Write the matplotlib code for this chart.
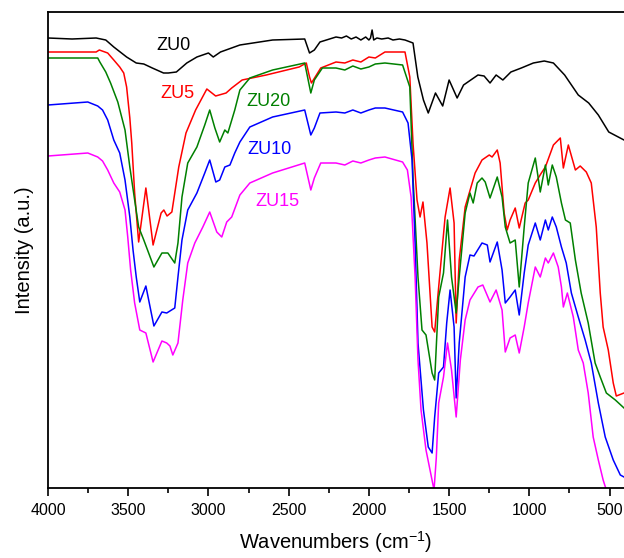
import matplotlib
matplotlib.use("Agg")
import matplotlib.pyplot as plt
from matplotlib.ticker import MultipleLocator

plt.rcParams["font.family"] = ["Liberation Sans", "DejaVu Sans"]

# ── spectra (wavenumber in cm-1, intensity in a.u.) ──
zu0_wn = [4000, 3850, 3700, 3640, 3590, 3550, 3510, 3480, 3450, 3403, 3350, 3280,
          3250, 3200, 3135, 3072, 3000, 2970, 2925, 2804, 2600, 2400, 2370, 2340,
          2305, 2205, 2170, 2140, 2110, 2080, 2050, 2020, 2000, 1990, 1980, 1970,
          1950, 1920, 1880, 1850, 1810, 1775, 1725, 1695, 1660, 1630, 1585, 1540,
          1500, 1450, 1410, 1320, 1282, 1245, 1207, 1165, 1115, 1050, 975, 907,
          850, 780, 695, 630, 570, 505, 410]
zu0_int = [450, 449, 450, 448, 441, 436, 431, 428, 425, 424, 420, 415,
           415, 416, 425, 431, 435, 431, 436, 443, 448, 449, 435, 438,
           446, 451, 450, 452, 449, 451, 448, 451, 448, 450, 458, 448,
           450, 449, 450, 448, 449, 448, 445, 411, 388, 375, 395, 382,
           408, 390, 403, 413, 412, 405, 413, 408, 416, 420, 425, 427,
           425, 413, 393, 385, 373, 356, 348]

zu5_wn = [4000, 3700, 3680, 3628, 3590, 3553, 3528, 3510, 3490, 3478, 3460, 3435,
          3390, 3345, 3295, 3278, 3258, 3228, 3185, 3140, 3080, 3010, 2955, 2890,
          2855, 2790, 2640, 2435, 2390, 2370, 2358, 2300, 2205, 2150, 2100, 2050,
          2000, 1960, 1900, 1775, 1745, 1725, 1700, 1681, 1663, 1638, 1606, 1590,
          1565, 1525, 1494, 1469, 1456, 1437, 1400, 1338, 1295, 1250, 1232, 1200,
          1182, 1157, 1138, 1120, 1088, 1063, 1026, 1007, 963, 925, 900, 850,
          807, 788, 757, 713, 683, 645, 614, 583, 558, 540, 508, 477, 458, 410]
zu5_int = [436, 436, 438, 435, 428, 421, 415, 401, 370, 345, 295, 246,
           300, 243, 275, 278, 272, 276, 321, 355, 378, 399, 392, 395,
           400, 408, 413, 421, 425, 411, 405, 420, 426, 425, 428, 426,
           431, 430, 436, 436, 411, 345, 288, 271, 286, 245, 161, 156,
           201, 271, 300, 265, 165, 228, 281, 315, 328, 333, 331, 338,
           325, 275, 258, 268, 280, 260, 285, 288, 305, 315, 321, 343,
           350, 320, 343, 318, 322, 316, 305, 261, 195, 161, 138, 105, 92, 95]

zu20_wn = [4000, 3690, 3677, 3640, 3610, 3565, 3520, 3490, 3460, 3435, 3403, 3340,
           3290, 3253, 3210, 3190, 3165, 3129, 3072, 3023, 2992, 2960, 2930, 2898,
           2879, 2836, 2804, 2742, 2600, 2400, 2362, 2340, 2290, 2205, 2150, 2100,
           2050, 2000, 1960, 1900, 1790, 1745, 1725, 1694, 1669, 1644, 1606, 1590,
           1565, 1535, 1510, 1485, 1456, 1437, 1400, 1370, 1350, 1325, 1295, 1275,
           1245, 1200, 1170, 1150, 1120, 1088, 1063, 1032, 1007, 963, 932, 900,
           882, 857, 832, 800, 775, 745, 713, 677, 633, 590, 558, 520, 464, 410]
zu20_int = [430, 430, 426, 416, 405, 386, 358, 321, 288, 261, 248, 221,
            235, 235, 225, 245, 291, 325, 341, 363, 378, 360, 346, 358,
            355, 378, 398, 410, 418, 425, 395, 408, 420, 420, 418, 422,
            419, 421, 424, 425, 423, 401, 311, 211, 158, 153, 115, 108,
            191, 215, 268, 211, 175, 211, 275, 295, 285, 305, 310, 306,
            290, 311, 291, 261, 245, 248, 201, 261, 305, 330, 296, 323,
            303, 323, 311, 285, 268, 265, 228, 195, 165, 125, 111, 95, 88, 80]

zu10_wn = [4000, 3752, 3690, 3660, 3628, 3590, 3553, 3520, 3490, 3470, 3450, 3428,
           3390, 3340, 3290, 3260, 3240, 3210, 3190, 3165, 3129, 3072, 3023, 2992,
           2954, 2930, 2898, 2866, 2836, 2804, 2742, 2600, 2400, 2362, 2340, 2305,
           2205, 2150, 2100, 2050, 2000, 1960, 1900, 1790, 1756, 1731, 1712, 1694,
           1660, 1630, 1606, 1590, 1565, 1535, 1515, 1494, 1469, 1456, 1437, 1400,
           1370, 1345, 1295, 1262, 1245, 1200, 1170, 1150, 1120, 1088, 1063, 1032,
           1007, 963, 932, 900, 882, 857, 832, 800, 770, 738, 695, 652, 614,
           570, 527, 477, 433, 410]
zu10_int = [383, 386, 382, 378, 368, 348, 335, 308, 271, 238, 211, 186,
            202, 162, 176, 175, 177, 180, 211, 248, 278, 295, 315, 328,
            306, 308, 321, 323, 335, 346, 361, 371, 378, 353, 360, 375,
            376, 375, 378, 375, 378, 380, 380, 376, 365, 328, 245, 145,
            78, 41, 35, 71, 115, 121, 165, 198, 161, 90, 145, 211,
            233, 232, 245, 243, 226, 246, 218, 185, 191, 198, 173, 215,
            243, 265, 248, 268, 258, 271, 261, 241, 225, 195, 171, 148, 125,
            85, 51, 28, 13, 11]

zu15_wn = [4000, 3752, 3690, 3660, 3628, 3590, 3553, 3520, 3503, 3485, 3460, 3428,
           3390, 3345, 3290, 3260, 3240, 3222, 3190, 3160, 3129, 3085, 3035, 2992,
           2948, 2917, 2886, 2855, 2804, 2742, 2600, 2400, 2362, 2340, 2300, 2205,
           2150, 2100, 2050, 2000, 1960, 1900, 1790, 1760, 1737, 1712, 1694, 1675,
           1644, 1619, 1594, 1580, 1565, 1535, 1510, 1485, 1456, 1430, 1400, 1370,
           1320, 1290, 1245, 1207, 1170, 1150, 1120, 1088, 1063, 1032, 1007, 963,
           932, 900, 882, 850, 820, 800, 788, 763, 726, 695, 664, 633, 602,
           570, 540, 520, 480]
zu15_int = [332, 335, 331, 327, 318, 305, 296, 278, 251, 218, 185, 158,
            155, 126, 147, 145, 142, 133, 145, 188, 225, 245, 261, 276,
            256, 251, 266, 271, 293, 305, 315, 325, 298, 310, 325, 325,
            323, 327, 325, 328, 330, 331, 326, 318, 291, 211, 128, 78,
            38, 18, -2, 30, 85, 111, 145, 118, 71, 128, 168, 188,
            201, 203, 186, 198, 178, 136, 150, 153, 135, 161, 185, 221,
            211, 230, 225, 235, 221, 201, 181, 195, 171, 138, 125, 95, 51,
            28, 8, -2, -40]

names = ["ZU0", "ZU5", "ZU20", "ZU10", "ZU15"]
colors = ["black", "red", "green", "blue", "magenta"]
label_wn = [3216, 3191, 2624, 2617, 2573]
label_int = [443, 394, 386, 338, 286]

series = [(zu0_wn, zu0_int), (zu5_wn, zu5_int), (zu20_wn, zu20_int),
          (zu10_wn, zu10_int), (zu15_wn, zu15_int)]

fig = plt.figure(figsize=(6.24, 5.58), dpi=100)
ax = fig.add_axes([48 / 624, 70 / 558, 576 / 624, 476 / 558])

for (wn, inten), name, col, lx, ly in zip(series, names, colors, label_wn, label_int):
    ax.plot(wn, inten, color=col, lw=1.1)
    ax.text(lx, ly, name, color=col, fontsize=13, ha="center", va="center")

ax.set_xlim(4000, 410)
ax.set_ylim(0, 476)
ax.xaxis.set_major_locator(MultipleLocator(500))
ax.xaxis.set_minor_locator(MultipleLocator(250))
ax.tick_params(axis="x", which="major", direction="out", length=6, width=1.2,
               labelsize=11.5, pad=5)
ax.tick_params(axis="x", which="minor", direction="out", length=3.5, width=1.2)
ax.set_yticks([])
ax.spines["right"].set_visible(False)
for s in ["left", "top", "bottom"]:
    ax.spines[s].set_linewidth(1.3)

ax.set_xlabel("Wavenumbers (cm$^{\\mathregular{-1}}$)", fontsize=14.5, labelpad=8)
ax.set_ylabel("Intensity (a.u.)", fontsize=14.5, labelpad=10)

fig.savefig("out.png", dpi=100)
